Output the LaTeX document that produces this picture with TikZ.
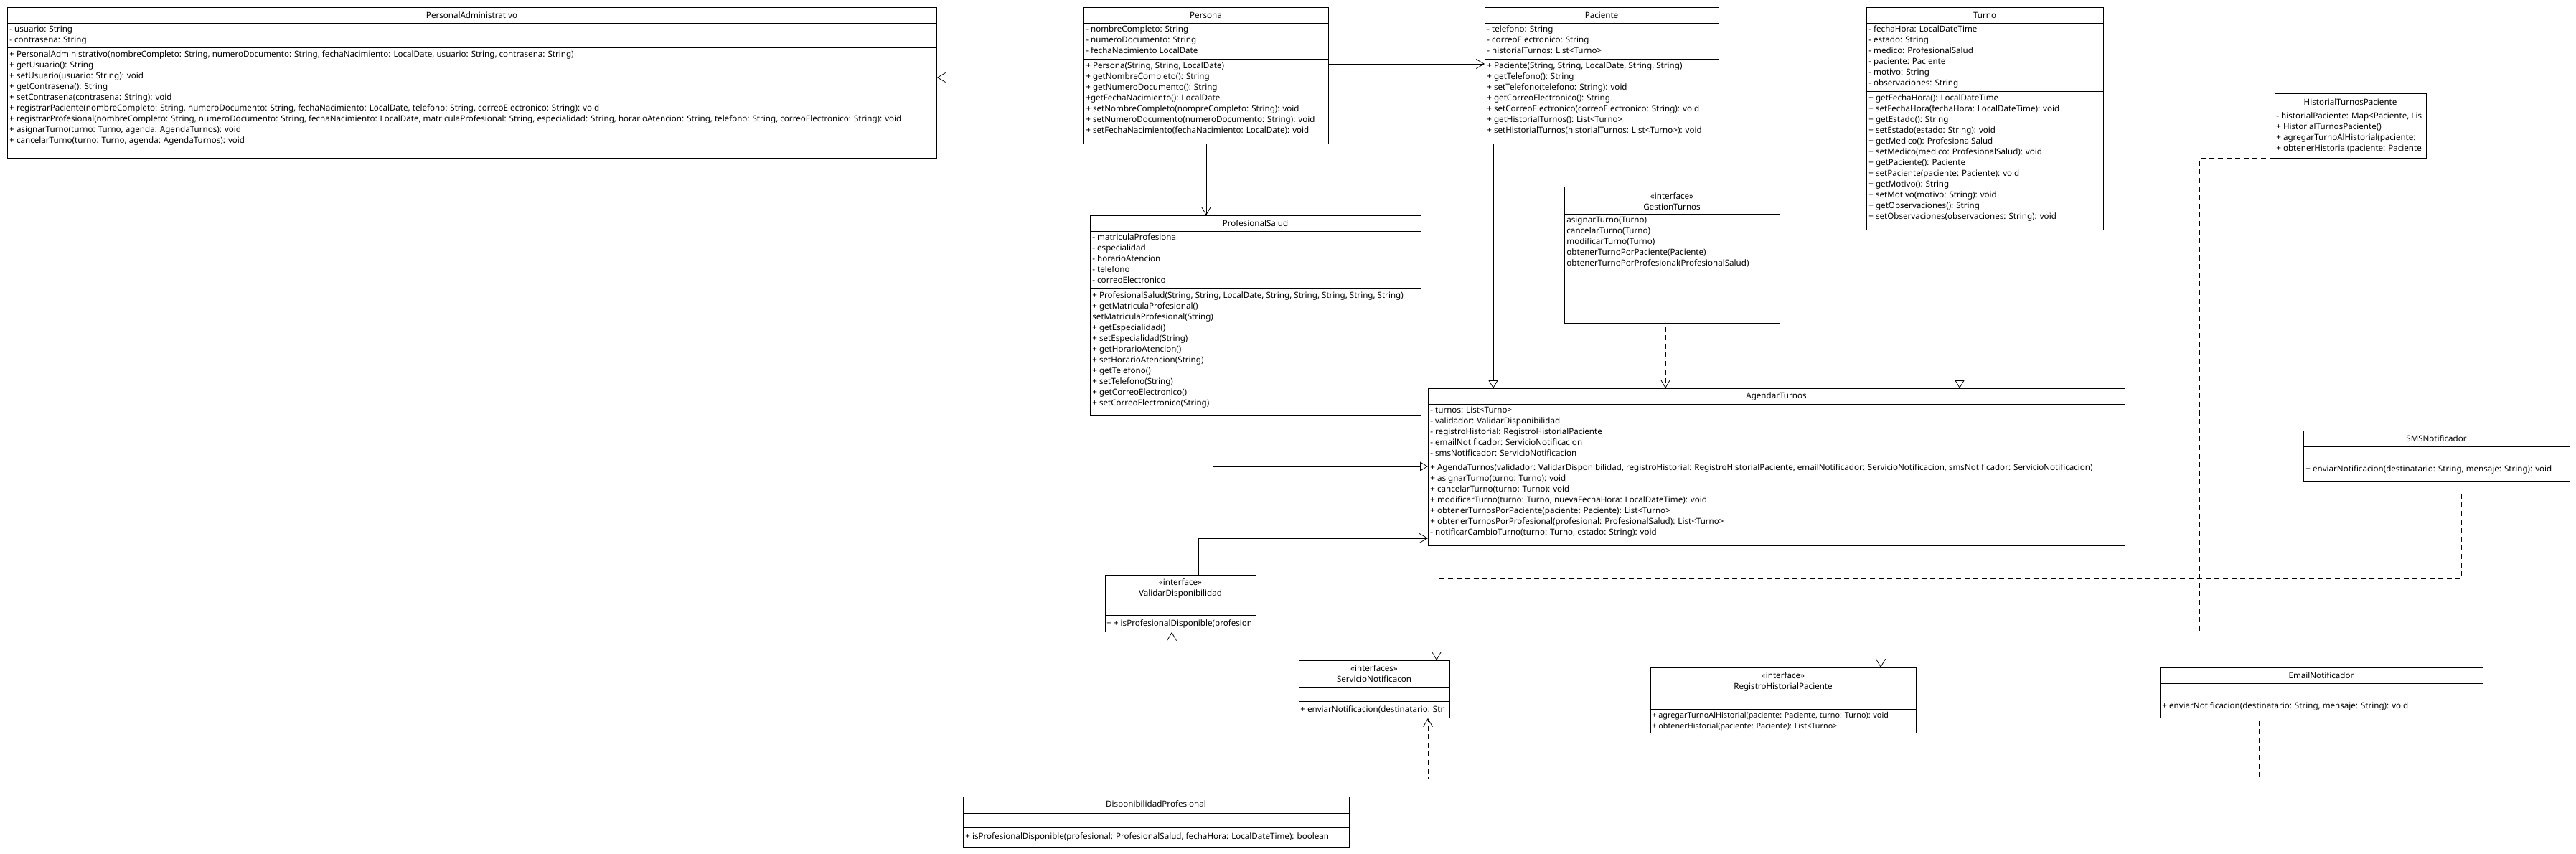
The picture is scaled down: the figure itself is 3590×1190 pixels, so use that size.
\documentclass[tikz,border=0pt]{standalone}
\usepackage{fontspec}
\setmainfont{Noto Sans}
\usepackage{tikz}
\usetikzlibrary{arrows.meta}
\newcommand\umlfont{\fontsize{11.6}{15}\selectfont}

\begin{document}
\begin{tikzpicture}[x=1pt, y=-1pt, line width=0.8pt,
    box/.style={draw, anchor=north west, inner sep=0pt},
    title/.style={inner sep=0pt, font=\umlfont, align=center},
    members/.style={anchor=north west, align=left, inner sep=0pt, font=\umlfont, execute at begin node=\strut},
    assoc/.style={-{Straight Barb[length=11pt,width=13pt]}},
    inherit/.style={-{Triangle[open,length=11pt,width=13pt]}},
    depend/.style={dash pattern=on 7pt off 5pt, -{Straight Barb[length=11pt,width=13pt]}}]

    \fill[white] (0,0) rectangle (3590,1190);
    \useasboundingbox (0,0) rectangle (3590,1190);

    \node[box, minimum width=1295pt, minimum height=210pt] (padm) at (10,10) {};
    \node[title] (padm-name) at (657.5,21) {PersonalAdministrativo};
    \node[members] (padm-attr) at (13,35.5) {- usuario: String\\- contrasena: String};
    \node[members] (padm-ops) at (13,70.5) {+ PersonalAdministrativo(nombreCompleto: String, numeroDocumento: String, fechaNacimiento: LocalDate, usuario: String, contrasena: String)\\+ getUsuario(): String\\+ setUsuario(usuario: String): void\\+ getContrasena(): String\\+ setContrasena(contrasena: String): void\\+ registrarPaciente(nombreCompleto: String, numeroDocumento: String, fechaNacimiento: LocalDate, telefono: String, correoElectronico: String): void\\+ registrarProfesional(nombreCompleto: String, numeroDocumento: String, fechaNacimiento: LocalDate, matriculaProfesional: String, especialidad: String, horarioAtencion: String, telefono: String, correoElectronico: String): void\\+ asignarTurno(turno: Turno, agenda: AgendaTurnos): void\\+ cancelarTurno(turno: Turno, agenda: AgendaTurnos): void};
    \draw (padm.west |- 0,32) -- (padm.east |- 0,32);
    \draw (padm.west |- 0,66) -- (padm.east |- 0,66);

    \node[box, minimum width=341pt, minimum height=190pt] (persona) at (1510,10) {};
    \node[title] (persona-name) at (1680.5,21) {Persona};
    \node[members] (persona-attr) at (1513,35.5) {- nombreCompleto: String\\- numeroDocumento: String\\- fechaNacimiento LocalDate};
    \node[members] (persona-ops) at (1513,86.5) {+ Persona(String, String, LocalDate)\\+ getNombreCompleto(): String\\+ getNumeroDocumento(): String\\+getFechaNacimiento(): LocalDate\\+ setNombreCompleto(nompreCompleto: String): void\\+ setNumeroDocumento(numeroDocumento: String): void\\+ setFechaNacimiento(fechaNacimiento: LocalDate): void};
    \draw (persona.west |- 0,32) -- (persona.east |- 0,32);
    \draw (persona.west |- 0,82) -- (persona.east |- 0,82);

    \node[box, minimum width=326pt, minimum height=190pt] (paciente) at (2069,10) {};
    \node[title] (paciente-name) at (2232,21) {Paciente};
    \node[members] (paciente-attr) at (2072,35.5) {- telefono: String\\- correoElectronico: String\\- historialTurnos: List<Turno>};
    \node[members] (paciente-ops) at (2072,86.5) {+ Paciente(String, String, LocalDate, String, String)\\+ getTelefono(): String\\+ setTelefono(telefono: String): void\\+ getCorreoElectronico(): String\\+ setCorreoElectronico(correoElectronico: String): void\\+ getHistorialTurnos(): List<Turno>\\+ setHistorialTurnos(historialTurnos: List<Turno>): void};
    \draw (paciente.west |- 0,32) -- (paciente.east |- 0,32);
    \draw (paciente.west |- 0,82) -- (paciente.east |- 0,82);

    \node[box, minimum width=330pt, minimum height=310pt] (turno) at (2601,10) {};
    \node[title] (turno-name) at (2766,21) {Turno};
    \node[members] (turno-attr) at (2604,35.5) {- fechaHora: LocalDateTime\\- estado: String\\- medico: ProfesionalSalud\\- paciente: Paciente\\- motivo: String\\- observaciones: String};
    \node[members] (turno-ops) at (2604,131.5) {+ getFechaHora(): LocalDateTime\\+ setFechaHora(fechaHora: LocalDateTime): void\\+ getEstado(): String\\+ setEstado(estado: String): void\\+ getMedico(): ProfesionalSalud\\+ setMedico(medico: ProfesionalSalud): void\\+ getPaciente(): Paciente\\+ setPaciente(paciente: Paciente): void\\+ getMotivo(): String\\+ setMotivo(motivo: String): void\\+ getObservaciones(): String\\+ setObservaciones(observaciones: String): void};
    \draw (turno.west |- 0,32) -- (turno.east |- 0,32);
    \draw (turno.west |- 0,127) -- (turno.east |- 0,127);

    \node[box, minimum width=211pt, minimum height=90pt] (historial) at (3170,130) {};
    \node[title] (historial-name) at (3275.5,142) {HistorialTurnosPaciente};
    \begin{scope}
      \clip (historial.north west) rectangle (historial.south east);
      \node[members] (historial-ops) at (3172,156.5) {- historialPaciente: Map<Paciente, Lis\\+ HistorialTurnosPaciente()\\+ agregarTurnoAlHistorial(paciente: \\+ obtenerHistorial(paciente: Paciente};
    \end{scope}
    \draw (historial.west |- 0,154) -- (historial.east |- 0,154);

    \node[box, minimum width=461pt, minimum height=278pt] (profesional) at (1519,300) {};
    \node[title] (profesional-name) at (1749.5,311) {ProfesionalSalud};
    \node[members] (profesional-attr) at (1522,325.5) {- matriculaProfesional\\- especialidad\\- horarioAtencion\\- telefono\\- correoElectronico};
    \node[members] (profesional-ops) at (1522,406.5) {+ ProfesionalSalud(String, String, LocalDate, String, String, String, String, String)\\+ getMatriculaProfesional()\\setMatriculaProfesional(String)\\+ getEspecialidad()\\+ setEspecialidad(String)\\+ getHorarioAtencion()\\+ setHorarioAtencion(String)\\+ getTelefono()\\+ setTelefono(String)\\+ getCorreoElectronico()\\+ setCorreoElectronico(String)};
    \draw (profesional.west |- 0,322) -- (profesional.east |- 0,322);
    \draw (profesional.west |- 0,402) -- (profesional.east |- 0,402);

    \node[box, minimum width=300pt, minimum height=190pt] (gestion) at (2180,260) {};
    \node[title] (gestion-name) at (2330,280.5) {«interface»\\GestionTurnos};
    \node[members] (gestion-ops) at (2183,301.5) {asignarTurno(Turno)\\cancelarTurno(Turno)\\modificarTurno(Turno)\\obtenerTurnoPorPaciente(Paciente)\\obtenerTurnoPorProfesional(ProfesionalSalud)};
    \draw (gestion.west |- 0,298) -- (gestion.east |- 0,298);

    \node[box, minimum width=971pt, minimum height=219pt] (agendar) at (1990,541) {};
    \node[title] (agendar-name) at (2475.5,552) {AgendarTurnos};
    \node[members] (agendar-attr) at (1993,566.5) {- turnos: List<Turno>\\- validador: ValidarDisponibilidad\\- registroHistorial: RegistroHistorialPaciente\\- emailNotificador: ServicioNotificacion\\- smsNotificador: ServicioNotificacion};
    \node[members] (agendar-ops) at (1993,646.5) {+ AgendaTurnos(validador: ValidarDisponibilidad, registroHistorial: RegistroHistorialPaciente, emailNotificador: ServicioNotificacion, smsNotificador: ServicioNotificacion)\\+ asignarTurno(turno: Turno): void\\+ cancelarTurno(turno: Turno): void\\+ modificarTurno(turno: Turno, nuevaFechaHora: LocalDateTime): void\\+ obtenerTurnosPorPaciente(paciente: Paciente): List<Turno>\\+ obtenerTurnosPorProfesional(profesional: ProfesionalSalud): List<Turno>\\- notificarCambioTurno(turno: Turno, estado: String): void};
    \draw (agendar.west |- 0,563) -- (agendar.east |- 0,563);
    \draw (agendar.west |- 0,642) -- (agendar.east |- 0,642);

    \node[box, minimum width=371pt, minimum height=70pt] (sms) at (3210,600) {};
    \node[title] (sms-name) at (3395.5,611) {SMSNotificador};
    \node[members] (sms-ops) at (3213,646.5) {+ enviarNotificacion(destinatario: String, mensaje: String): void};
    \draw (sms.west |- 0,622) -- (sms.east |- 0,622);
    \draw (sms.west |- 0,642) -- (sms.east |- 0,642);

    \node[box, minimum width=210pt, minimum height=79pt] (validar) at (1540,801) {};
    \node[title] (validar-name) at (1645,820) {«interface»\\ValidarDisponibilidad};
    \begin{scope}
      \clip (validar.north west) rectangle (validar.south east);
      \node[members] (validar-ops) at (1542,861.5) {+ + isProfesionalDisponible(profesion};
    \end{scope}
    \draw (validar.west |- 0,837) -- (validar.east |- 0,837);
    \draw (validar.west |- 0,857) -- (validar.east |- 0,857);

    \node[box, minimum width=210pt, minimum height=80pt] (servicio) at (1810,920) {};
    \node[title] (servicio-name) at (1915,939) {«interfaces»\\ServicioNotificacon};
    \begin{scope}
      \clip (servicio.north west) rectangle (servicio.south east);
      \node[members] (servicio-ops) at (1812,981.5) {+ enviarNotificacion(destinatario: Str};
    \end{scope}
    \draw (servicio.west |- 0,957) -- (servicio.east |- 0,957);
    \draw (servicio.west |- 0,977) -- (servicio.east |- 0,977);

    \node[box, minimum width=370pt, minimum height=91pt] (registro) at (2300,930) {};
    \node[title] (registro-name) at (2485,949.5) {«interface»\\RegistroHistorialPaciente};
    \node[members, font=\fontsize{10.8}{15}\selectfont] (registro-ops) at (2302,991.5) {+ agregarTurnoAlHistorial(paciente: Paciente, turno: Turno): void\\+ obtenerHistorial(paciente: Paciente): List<Turno>};
    \draw (registro.west |- 0,968) -- (registro.east |- 0,968);
    \draw (registro.west |- 0,988) -- (registro.east |- 0,988);

    \node[box, minimum width=450pt, minimum height=70pt] (email) at (3010,930) {};
    \node[title] (email-name) at (3235,941) {EmailNotificador};
    \node[members] (email-ops) at (3013,976.5) {+ enviarNotificacion(destinatario: String, mensaje: String): void};
    \draw (email.west |- 0,952) -- (email.east |- 0,952);
    \draw (email.west |- 0,972) -- (email.east |- 0,972);

    \node[box, minimum width=538pt, minimum height=70pt] (disponibilidad) at (1342,1110) {};
    \node[title] (disponibilidad-name) at (1611,1121) {DisponibilidadProfesional};
    \node[members] (disponibilidad-ops) at (1345,1158.5) {+ isProfesionalDisponible(profesional: ProfesionalSalud, fechaHora: LocalDateTime): boolean};
    \draw (disponibilidad.west |- 0,1133) -- (disponibilidad.east |- 0,1133);
    \draw (disponibilidad.west |- 0,1153) -- (disponibilidad.east |- 0,1153);


    \draw (persona.west |- 0,108) edge[assoc] (padm.east |- 0,108);
    \draw (persona.east |- 0,89) edge[assoc] (paciente.west |- 0,89);
    \draw (persona.south) edge[assoc] (persona.south |- profesional.north);
    \draw (paciente.south -| 2081,0) edge[inherit] (agendar.north -| 2081,0);
    \draw (turno.south -| 2731,0) edge[inherit] (agendar.north -| 2731,0);
    \draw[depend] ([yshift=-4pt]gestion.south -| 2321,0) -- (agendar.north -| 2321,0);
    \draw[inherit] ([yshift=-13pt]profesional.south -| 1690,0) |- (agendar.west |- 0,650);
    \draw[assoc] (validar.north -| 1670,0) |- (agendar.west |- 0,750);
    \draw[depend] ([yshift=5pt]disponibilidad.north -| 1633,0) -- (validar.south -| 1633,0);
    \draw[depend] ([yshift=-17pt]sms.south -| 3430,0) -- ++(0,119) -| (servicio.north -| 2002,0);
    \draw[depend] ([yshift=-3pt]email.south -| 3148,0) -- ++(0,82) -| (servicio.south -| 1990,0);
    \draw[depend] (historial.south west) -- ++(-105,0) -- ++(0,660) -| (registro.north -| 2621,0);
  \end{tikzpicture}
\end{document}
